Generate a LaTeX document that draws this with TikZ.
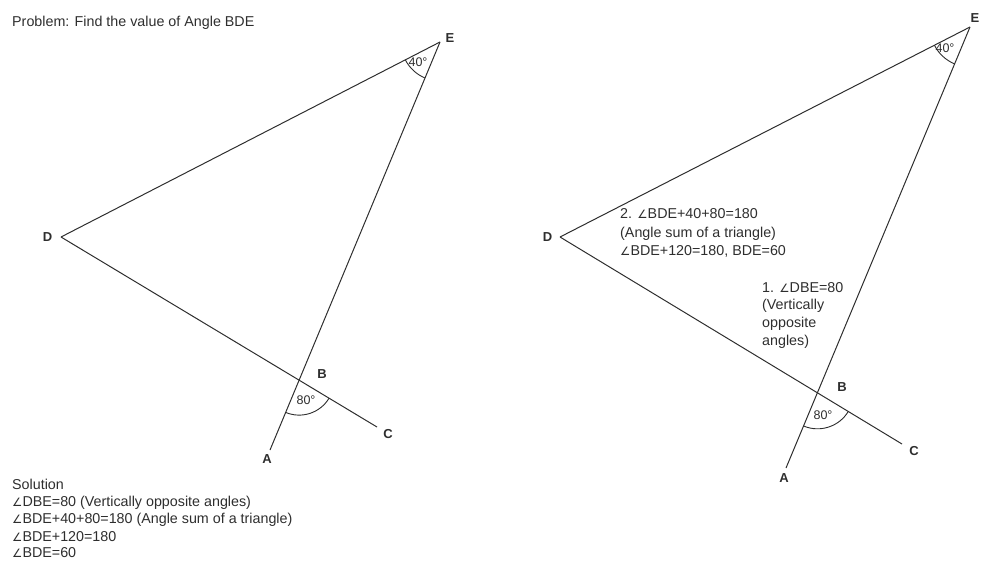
\documentclass[tikz,border=0pt]{standalone}
\usepackage{fontspec}
\setmainfont{Liberation Sans}
\newfontfamily\dejavu{DejaVu Sans}
\usetikzlibrary{angles,quotes}
\newcommand{\angsym}{{\dejavu\fontsize{11.5}{13}\selectfont ∠}}
\definecolor{ink}{HTML}{2E2E2E}
\tikzset{
  edge/.style={draw=ink, line width=1pt},
  vlabel/.style={font=\bfseries\fontsize{13}{15}\selectfont, text=ink, inner sep=0pt},
  deg/.style={font=\fontsize{12.5}{14}\selectfont, text=ink, inner sep=0pt},
  txt/.style={font=\fontsize{14.3}{16}\selectfont, text=ink, inner sep=0pt, anchor=base west},
  angmark/.style={draw=ink, line width=0.9pt}
}
\begin{document}
\begin{tikzpicture}[x=1pt,y=-1pt]
\useasboundingbox (0,0) rectangle (981,560);
% ---------- left figure ----------
\coordinate (D) at (61,237);
\coordinate (E) at (440,42);
\coordinate (A) at (270,450);
\coordinate (C) at (377,427);
\coordinate (B) at (299.1,380.1);
\draw[edge] (D) -- (E);
\draw[edge] (E) -- (A);
\draw[edge] (D) -- (C);
\pic[angmark, angle radius=35pt] {angle = A--B--C};
\pic[angmark, angle radius=39pt] {angle = D--E--A};
\node[vlabel] (lD) at (47.5,237) {D};
\node[vlabel] (lE) at (450,38) {E};
\node[vlabel] (lB) at (322,374) {B};
\node[vlabel] (lA) at (267,459) {A};
\node[vlabel] (lC) at (388,434) {C};
\node[deg] (d40) at (418,62) {40°};
\node[deg] (d80) at (306,400) {80°};
\node[txt] (prob) at (12,26) {Problem: Find the value of Angle BDE};
\node[txt] (s0) at (12,489) {Solution};
\node[txt] (s1) at (12,506) {\angsym DBE=80 (Vertically opposite angles)};
\node[txt] (s2) at (12,523) {\angsym BDE+40+80=180 (Angle sum of a triangle)};
\node[txt] (s3) at (12,541) {\angsym BDE+120=180};
\node[txt] (s4) at (12,557) {\angsym BDE=60};
% ---------- right figure ----------
\coordinate (D2) at (560,237);
\coordinate (E2) at (970,27);
\coordinate (A2) at (786,468);
\coordinate (C2) at (902,444);
\coordinate (B2) at (817.5,392.8);
\draw[edge] (D2) -- (E2);
\draw[edge] (E2) -- (A2);
\draw[edge] (D2) -- (C2);
\pic[angmark, angle radius=36pt] {angle = A2--B2--C2};
\pic[angmark, angle radius=40pt] {angle = D2--E2--A2};
\node[vlabel] (lD2) at (547.5,237) {D};
\node[vlabel] (lE2) at (975,18) {E};
\node[vlabel] (lB2) at (842,387) {B};
\node[vlabel] (lA2) at (784,478) {A};
\node[vlabel] (lC2) at (914,451) {C};
\node[deg] (d40b) at (945,48) {40°};
\node[deg] (d80b) at (823,415) {80°};
\node[txt] (t21) at (620,218) {2. \angsym BDE+40+80=180};
\node[txt] (t22) at (620,237) {(Angle sum of a triangle)};
\node[txt] (t23) at (620,255) {\angsym BDE+120=180, BDE=60};
\node[txt] (t11) at (762,292) {1. \angsym DBE=80};
\node[txt] (t12) at (762,309) {(Vertically};
\node[txt] (t13) at (762,327) {opposite};
\node[txt] (t14) at (762,345) {angles)};
\end{tikzpicture}
\end{document}
